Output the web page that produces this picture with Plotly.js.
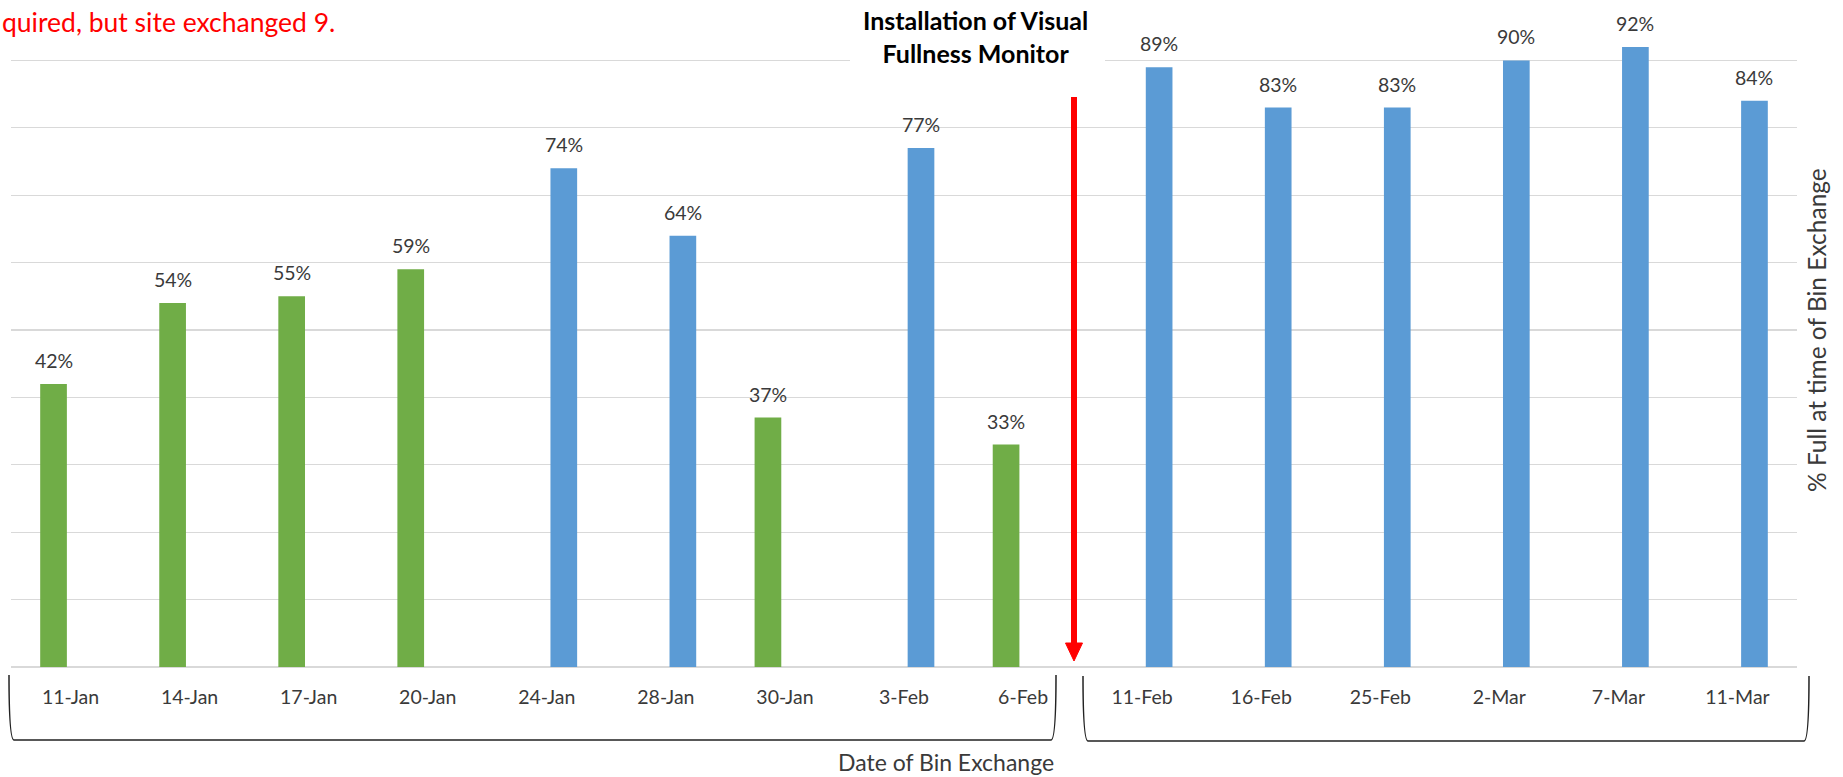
<!DOCTYPE html>
<html>
<head>
<meta charset="utf-8">
<script src="https://cdn.plot.ly/plotly-3.0.1.min.js"></script>
<style>html,body{margin:0;padding:0;background:#fff;}#chart{width:1843px;height:777px;}</style>
</head>
<body>
<div id="chart"></div>
<script>
// ---- data ----
const categories = ["11-Jan","14-Jan","17-Jan","20-Jan","24-Jan","28-Jan","30-Jan","3-Feb","6-Feb","11-Feb","16-Feb","25-Feb","2-Mar","7-Mar","11-Mar"];
const fullness   = [0.42, 0.54, 0.55, 0.59, 0.74, 0.64, 0.37, 0.77, 0.33, 0.89, 0.83, 0.83, 0.90, 0.92, 0.84];
const series     = ["g","g","g","g","b","b","g","b","g","b","b","b","b","b","b"];
const yAxisTitle = "% Full at time of Bin Exchange";
const xAxisTitle = "Date of Bin Exchange";
const noteText   = "Installation of Visual<br>Fullness Monitor";
const redText    = "quired, but site exchanged 9.";

const W = 1843, H = 777, ML = 11, MR = 46, MT = 0, MB = 110;
const PW = W - ML - MR, PH = H - MT - MB;
const px = v => (v - ML) / PW;
const py = v => (H - MB - v) / PH;

const GREEN = "#70AD47", BLUE = "#5B9BD5", TXT = "#3a3a3a";
const FONT = "Lato, 'Open Sans', sans-serif";

const greenVals = fullness.map((v, i) => series[i] === "g" ? v : null);
const blueVals  = fullness.map((v, i) => series[i] === "b" ? v : null);

const traces = [
  {type: "bar", x: categories, y: greenVals, marker: {color: GREEN}, hoverinfo: "skip", showlegend: false},
  {type: "bar", x: categories, y: blueVals,  marker: {color: BLUE},  hoverinfo: "skip", showlegend: false}
];

const annotations = fullness.map((v, i) => ({
  x: categories[i], y: v, xref: "x", yref: "y",
  text: Math.round(v * 100) + "%", showarrow: false,
  xshift: series[i] === "g" ? -17 : 17, yshift: 10, yanchor: "bottom",
  font: {family: FONT, size: 19.5, color: TXT}
}));

annotations.push({
  xref: "paper", yref: "paper", x: px(976), y: py(37), xanchor: "center", yanchor: "middle",
  text: "<b>" + noteText + "</b>", showarrow: false, align: "center",
  font: {family: FONT, size: 25, color: "#000"}
});
annotations.push({
  xref: "paper", yref: "paper", x: px(0), y: py(22), xanchor: "left", yanchor: "middle",
  text: redText, showarrow: false, font: {family: FONT, size: 26.5, color: "#FF0000"}
});
annotations.push({
  xref: "paper", yref: "paper", x: px(946), y: py(762), xanchor: "center", yanchor: "middle",
  text: xAxisTitle, showarrow: false, font: {family: FONT, size: 23, color: TXT}
});
annotations.push({
  xref: "paper", yref: "paper", x: px(1817), y: py(330), xanchor: "center", yanchor: "middle",
  text: yAxisTitle, textangle: -90, showarrow: false, font: {family: FONT, size: 24.5, color: TXT}
});

function brace(x0, x1, yt, yb) {
  const r = 5;
  return `M ${px(x0)},${py(yt)} Q ${px(x0)},${py(yb)} ${px(x0 + r)},${py(yb)} L ${px(x1 - r)},${py(yb)} Q ${px(x1)},${py(yb)} ${px(x1)},${py(yt)}`;
}

const shapes = [
  {type: "rect", xref: "paper", yref: "paper", x0: px(850), x1: px(1105), y0: py(0), y1: py(66),
   fillcolor: "#fff", line: {width: 0}, layer: "above"},
  {type: "line", xref: "paper", yref: "paper", x0: px(1074), x1: px(1074), y0: py(97), y1: py(645),
   line: {color: "#FF0000", width: 6}},
  {type: "path", xref: "paper", yref: "paper",
   path: `M ${px(1065.5)},${py(643)} L ${px(1082.5)},${py(643)} L ${px(1074)},${py(661)} Z`,
   fillcolor: "#FF0000", line: {color: "#FF0000", width: 1}},
  {type: "path", xref: "paper", yref: "paper", path: brace(9, 1056, 675, 740),
   line: {color: "#222", width: 1.5}},
  {type: "path", xref: "paper", yref: "paper", path: brace(1083, 1809, 676, 741),
   line: {color: "#222", width: 1.5}}
];

const layout = {
  width: W, height: H,
  margin: {l: ML, r: MR, t: MT, b: MB, pad: 0},
  paper_bgcolor: "#fff", plot_bgcolor: "#fff",
  barmode: "group", bargap: 0.429, bargroupgap: 0.215,
  showlegend: false,
  font: {family: FONT, color: TXT},
  xaxis: {type: "category", categoryorder: "array", categoryarray: categories,
          showgrid: false, zeroline: false, showline: false, ticks: "",
          tickfont: {family: FONT, size: 19.5, color: TXT}, ticklabelstandoff: 16, fixedrange: true},
  yaxis: {range: [0, PH / 674], dtick: 0.1, tick0: 0, showticklabels: false, ticks: "",
          showgrid: true, gridcolor: "#D9D9D9", gridwidth: 1.3, zeroline: true, zerolinecolor: "#D9D9D9",
          zerolinewidth: 1.3, showline: false, fixedrange: true},
  annotations: annotations,
  shapes: shapes
};

Plotly.newPlot("chart", traces, layout, {staticPlot: true, displayModeBar: false});
</script>
</body>
</html>
